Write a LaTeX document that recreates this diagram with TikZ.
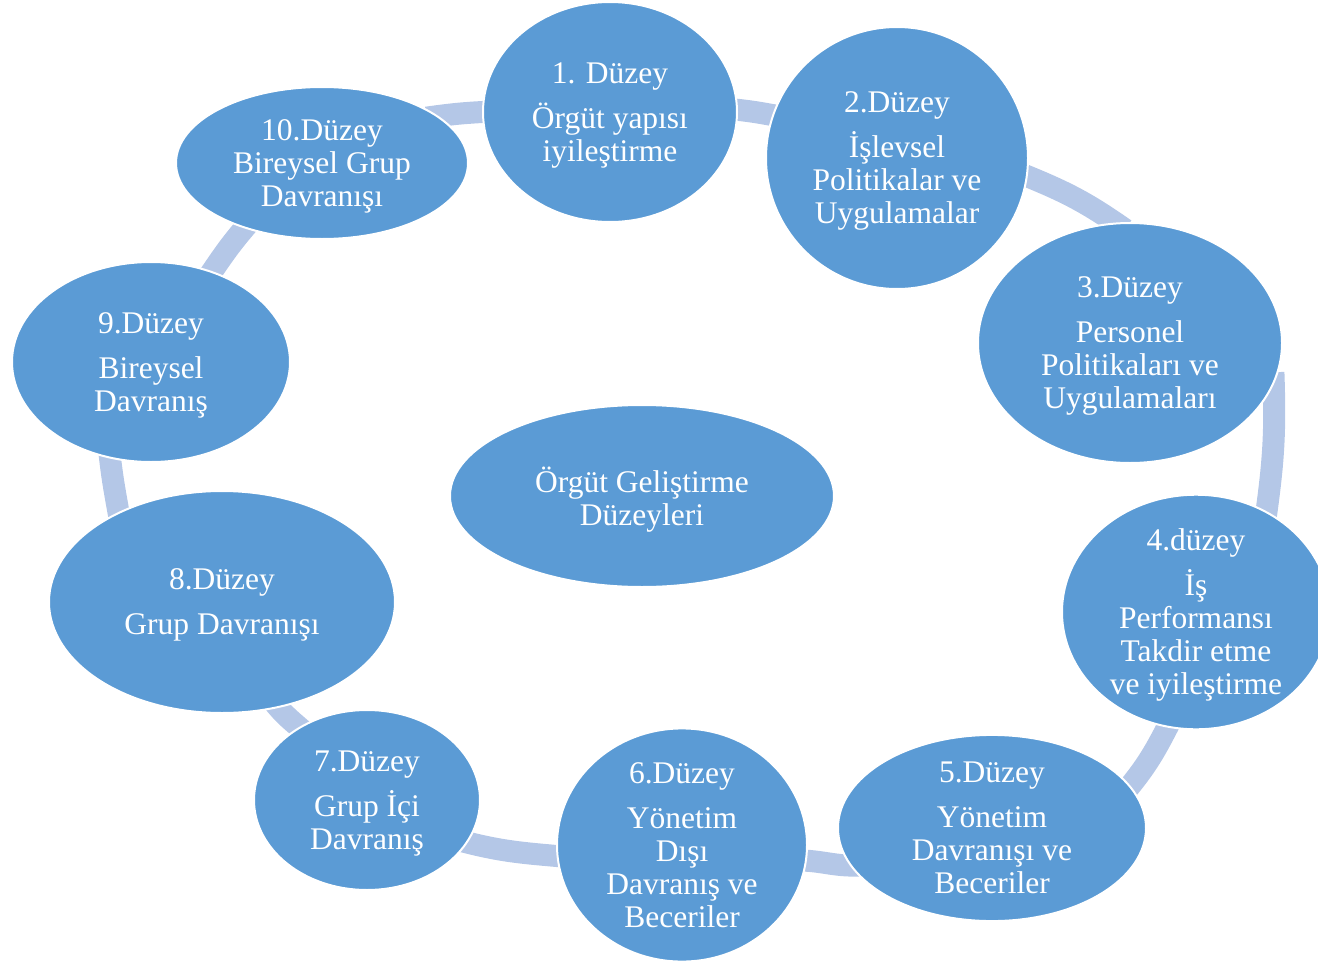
\documentclass[tikz,border=0pt]{standalone}
\usepackage{fontspec}
\setmainfont{Liberation Serif}
\usetikzlibrary{backgrounds,shapes.geometric}
\definecolor{lvlblue}{RGB}{91,155,213}
\definecolor{ringblue}{RGB}{180,199,231}

\begin{document}
\begin{tikzpicture}[x=1pt, y=1pt,
  level/.style={ellipse, fill=lvlblue, draw=white, line width=2pt, inner sep=0pt,
    text=white, align=center, text depth=0pt, font=\fontsize{31.5}{33}\selectfont},
  ring/.style={draw=ringblue, line width=22pt, shorten <=-12pt, shorten >=-12pt}]
\clip (0,0) rectangle (1318,-961);
\node[level, minimum width=254pt, minimum height=220pt] (n1) at (610,-112) {1. Düzey\\[12pt]Örgüt yapısı\\iyileştirme};
\node[level, minimum width=262pt, minimum height=262pt] (n2) at (897,-158) {2.Düzey\\[12pt]İşlevsel\\Politikalar ve\\Uygulamalar};
\node[level, minimum width=304pt, minimum height=240pt] (n3) at (1130,-343) {3.Düzey\\[12pt]Personel\\Politikaları ve\\Uygulamaları};
\node[level, minimum width=268pt, minimum height=232pt] (n4) at (1196,-612) {4.düzey\\[12pt]İş\\Performansı\\Takdir etme\\ve iyileştirme};
\node[level, minimum width=308pt, minimum height=164pt] (n5) at (992,-828) {5.Düzey\\[12pt]Yönetim\\Davranışı ve\\Beceriler};
\node[level, minimum width=250pt, minimum height=230pt] (n6) at (682,-845) {6.Düzey\\[12pt]Yönetim\\Dışı\\Davranış ve\\Beceriler};
\node[level, minimum width=226pt, minimum height=180pt] (n7) at (367,-800) {7.Düzey\\[12pt]Grup İçi\\Davranış};
\node[level, minimum width=346pt, minimum height=222pt] (n8) at (222,-602) {8.Düzey\\[12pt]Grup Davranışı};
\node[level, minimum width=278pt, minimum height=200pt] (n9) at (151,-362) {9.Düzey\\[12pt]Bireysel\\Davranış};
\node[level, minimum width=292pt, minimum height=152pt] (n10) at (322,-163) {10.Düzey\\Bireysel Grup\\Davranışı};
\node[level, minimum width=384pt, minimum height=182pt] (ctr) at (642,-496) {Örgüt Geliştirme\\Düzeyleri};
\begin{scope}[on background layer]
\draw[ring] (n1.1) to[out=-5, in=170] (n2.161);
\draw[ring] (n2.-8) to[out=-22, in=145] (n3.97);
\draw[ring] (n3.-16) to[out=-88, in=82] (n4.55);
\draw[ring] (n4.-104) to[out=-117, in=50] (n5.17);
\draw[ring] (n5.195) to[out=183, in=0] (n6.-7);
\draw[ring] (n6.185) to[out=175, in=-15] (n7.-23);
\draw[ring] (n7.133) to[out=138, in=-52] (n8.-62);
\draw[ring] (n8.139) to[out=100, in=-84] (n9.-113);
\draw[ring] (n9.56) to[out=56, in=-131] (n10.220);
\draw[ring] (n10.22) to[out=8, in=183] (n1.180);
\end{scope}
\end{tikzpicture}
\end{document}
